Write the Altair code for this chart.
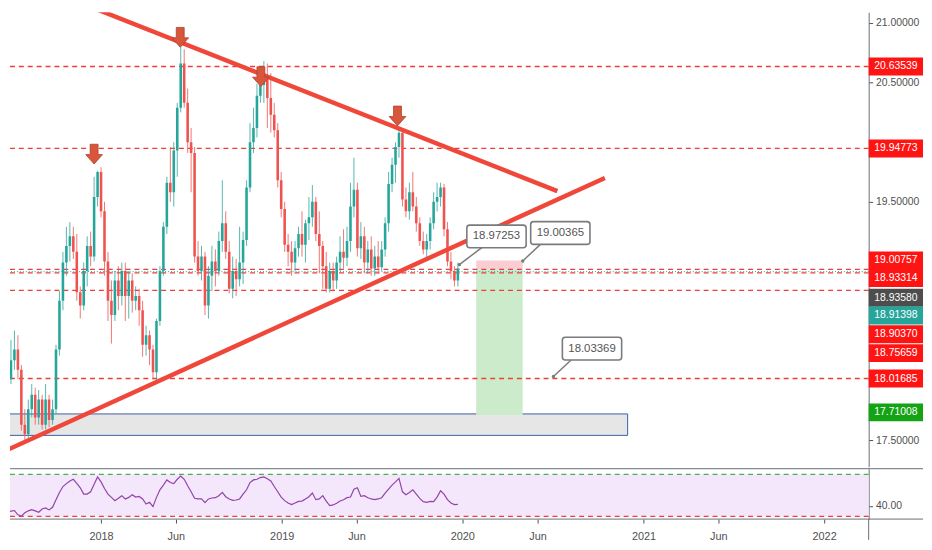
import altair as alt
import pandas as pd

FONT = "Liberation Sans"
UP = "#26A69A"
DOWN = "#EF5350"
LEVEL_RED = "#F03C3C"
TREND = "#F0473B"
TXT = "#4F4F4F"
FRAME = "#6A6D78"

# ---------------------------------------------------------------------------
# data (weekly candles, first week 2017-06-19)
# ---------------------------------------------------------------------------
first_week = "2017-06-19"

opens = [
    18.67, 18.30, 18.01, 18.17, 18.26, 18.09, 17.63, 17.55, 17.76, 17.88,
    17.69, 17.84, 17.63, 17.84, 17.67, 17.76, 18.26, 18.67, 18.99, 19.13,
    19.21, 19.08, 18.74, 18.63, 18.92, 19.13, 19.04, 19.54, 19.75, 19.42,
    19.00, 18.67, 18.55, 18.84, 18.71, 18.92, 18.71, 18.84, 18.67, 18.71,
    18.59, 18.30, 18.38, 18.26, 18.07, 18.50, 18.92, 19.29, 19.66, 19.58,
    19.93, 20.29, 20.66, 20.33, 20.00, 19.91, 19.04, 18.92, 19.04, 18.63,
    18.88, 19.00, 18.92, 19.17, 19.32, 19.08, 18.77, 18.92, 18.85, 18.99,
    19.18, 19.62, 20.00, 20.12, 20.39, 20.48, 20.54, 20.37, 20.23, 20.10,
    19.68, 19.44, 19.14, 19.08, 18.99, 19.11, 19.23, 19.14, 19.32, 19.37,
    19.50, 19.23, 19.13, 18.96, 18.77, 18.92, 18.84, 18.99, 19.08, 19.03,
    19.17, 19.46, 19.60, 19.11, 19.21, 18.99, 19.10, 18.94, 19.04, 18.95,
    19.10, 19.32, 19.65, 19.81, 19.96, 20.08, 19.52, 19.42, 19.58, 19.46,
    19.32, 19.17, 19.10, 19.17, 19.32, 19.50, 19.54, 19.62, 19.27, 19.00,
    18.92, 18.84,
]
closes = [
    18.30, 18.01, 18.17, 18.26, 18.09, 17.63, 17.55, 17.76, 17.88, 17.69,
    17.84, 17.63, 17.84, 17.67, 17.76, 18.26, 18.67, 18.99, 19.13, 19.21,
    19.08, 18.74, 18.63, 18.92, 19.13, 19.04, 19.54, 19.75, 19.42, 19.00,
    18.67, 18.55, 18.84, 18.71, 18.92, 18.71, 18.84, 18.67, 18.71, 18.59,
    18.30, 18.38, 18.26, 18.07, 18.50, 18.92, 19.29, 19.66, 19.58, 19.93,
    20.29, 20.66, 20.33, 20.00, 19.91, 19.04, 18.92, 19.04, 18.63, 18.88,
    19.00, 18.92, 19.17, 19.32, 19.08, 18.77, 18.92, 18.85, 18.99, 19.18,
    19.62, 20.00, 20.12, 20.39, 20.48, 20.54, 20.37, 20.23, 20.10, 19.68,
    19.44, 19.14, 19.08, 18.99, 19.11, 19.23, 19.14, 19.32, 19.37, 19.50,
    19.23, 19.13, 18.96, 18.77, 18.92, 18.84, 18.99, 19.08, 19.03, 19.17,
    19.46, 19.60, 19.11, 19.21, 18.99, 19.10, 18.94, 19.04, 18.95, 19.10,
    19.32, 19.65, 19.81, 19.96, 20.08, 19.52, 19.42, 19.58, 19.46, 19.32,
    19.17, 19.10, 19.17, 19.32, 19.50, 19.54, 19.62, 19.27, 19.00, 18.92,
    18.84, 18.94,
]
highs = [
    18.75, 18.34, 18.34, 18.42, 18.38, 18.13, 17.76, 17.84, 17.97, 17.94,
    17.92, 17.88, 17.97, 17.88, 17.84, 18.30, 18.75, 19.08, 19.29, 19.33,
    19.29, 19.23, 18.79, 18.99, 19.21, 19.25, 19.71, 19.76, 19.79, 19.50,
    19.08, 18.84, 18.92, 18.96, 18.99, 18.99, 18.92, 18.90, 18.79, 18.77,
    18.67, 18.46, 18.42, 18.30, 18.52, 18.96, 19.33, 19.71, 19.96, 20.00,
    20.33, 20.84, 20.78, 20.45, 20.12, 19.96, 19.17, 19.13, 19.08, 18.96,
    19.13, 19.10, 19.25, 19.68, 19.42, 19.17, 19.04, 19.02, 19.29, 19.25,
    19.68, 20.16, 20.29, 20.49, 20.64, 20.68, 20.66, 20.58, 20.33, 20.16,
    19.75, 19.50, 19.23, 19.17, 19.17, 19.29, 19.42, 19.35, 19.54, 19.64,
    19.54, 19.42, 19.17, 19.08, 18.99, 18.99, 19.04, 19.21, 19.27, 19.29,
    19.66, 19.87, 19.66, 19.33, 19.29, 19.17, 19.21, 19.13, 19.17, 19.17,
    19.37, 19.75, 19.87, 20.00, 20.12, 20.10, 19.62, 19.66, 19.75, 19.54,
    19.37, 19.25, 19.23, 19.37, 19.58, 19.66, 19.66, 19.65, 19.33, 19.08,
    18.96, 18.99,
]
lows = [
    18.21, 17.92, 17.97, 18.09, 18.01, 17.58, 17.47, 17.51, 17.69, 17.63,
    17.63, 17.59, 17.59, 17.61, 17.63, 17.72, 18.21, 18.59, 18.88, 19.00,
    19.02, 18.67, 18.52, 18.59, 18.79, 18.96, 19.00, 19.46, 19.37, 18.88,
    18.50, 18.31, 18.50, 18.59, 18.63, 18.50, 18.52, 18.57, 18.59, 18.46,
    18.20, 18.21, 18.13, 18.01, 17.98, 18.46, 18.88, 19.23, 19.50, 19.46,
    19.71, 20.25, 20.29, 19.91, 19.58, 18.99, 18.88, 18.84, 18.55, 18.52,
    18.75, 18.79, 18.88, 19.08, 19.02, 18.73, 18.69, 18.71, 18.79, 18.81,
    19.13, 19.58, 19.91, 20.04, 20.33, 20.33, 20.12, 20.08, 20.04, 19.62,
    19.37, 19.08, 18.96, 18.88, 18.92, 19.04, 19.04, 18.99, 19.18, 19.29,
    19.17, 18.90, 18.77, 18.74, 18.74, 18.75, 18.77, 18.92, 18.94, 18.96,
    19.08, 19.37, 19.04, 19.02, 18.90, 18.90, 18.88, 18.88, 18.90, 18.92,
    19.04, 19.25, 19.58, 19.66, 19.87, 19.46, 19.37, 19.35, 19.42, 19.25,
    19.13, 19.06, 19.03, 19.10, 19.27, 19.42, 19.46, 19.21, 18.96, 18.85,
    18.79, 18.79,
]
rsi_values = [
    33.1, 34.0, 35.0, 35.6, 31.5, 30.3, 33.4, 35.3, 36.5, 35.3,
    34.0, 37.1, 38.1, 36.2, 38.7, 45.9, 52.8, 58.4, 61.2, 63.7,
    65.3, 61.5, 57.2, 51.2, 51.2, 53.4, 60.6, 67.5, 62.8, 56.5,
    51.2, 48.1, 45.0, 47.2, 49.7, 46.6, 48.1, 50.6, 48.4, 49.0,
    46.6, 41.8, 43.4, 39.3, 48.1, 55.3, 59.7, 64.7, 62.2, 61.2,
    65.3, 68.4, 65.3, 59.1, 53.4, 47.2, 46.6, 46.6, 43.1, 46.6,
    47.5, 47.8, 49.7, 52.8, 48.7, 46.6, 45.3, 45.6, 46.6, 51.2,
    55.3, 62.2, 64.7, 65.3, 66.9, 67.5, 65.9, 63.7, 58.4, 53.4,
    48.4, 45.0, 42.8, 41.2, 42.8, 44.3, 44.6, 46.6, 48.7, 52.2,
    45.9, 46.6, 49.7, 44.6, 40.3, 40.9, 42.5, 44.6, 45.9, 47.8,
    48.4, 55.9, 57.2, 49.0, 49.7, 47.8, 46.6, 45.9, 46.6, 47.8,
    52.2, 55.9, 59.7, 62.8, 66.2, 53.4, 50.6, 52.8, 55.3, 51.2,
    47.2, 44.0, 43.4, 44.3, 44.0, 48.4, 54.4, 51.2, 45.9, 42.8,
    41.2, 41.5,
]

# horizontal levels
red_levels = [20.63539, 19.94773, 18.93314, 18.90370, 18.75659, 18.01685]
last_price = [18.91398]

# trend lines (two end points each)
trend_id = ["upper", "upper", "lower", "lower"]
trend_dates = ["2017-12-08", "2020-07-11", "2017-06-16", "2020-10-15"]
trend_prices = [21.14, 19.59, 17.40, 19.70]

# swing-high arrows
arrow_dates = ["2017-12-18", "2018-06-10", "2018-11-20", "2019-08-23"]
arrow_prices = [19.90, 20.88, 20.55, 20.22]

# support zone and short position box
support_start, support_end = "2017-06-01", "2020-11-30"
support_low, support_high = 17.54, 17.72
trade_start, trade_end = "2020-01-29", "2020-05-02"
trade_stop, trade_entry, trade_target = 19.00757, 18.93314, 17.71008

# price callouts: text, box centre, tail base, anchor
call_text = ["18.97253", "19.00365", "18.03369"]
call_box_date = ["2020-03-10", "2020-07-17", "2020-09-19"]
call_box_price = [19.209, 19.238, 18.268]
call_base_date = ["2020-02-10", "2020-06-09", "2020-08-10"]
call_base_price = [19.118, 19.151, 18.181]
call_anchor_date = ["2019-12-26", "2020-05-02", "2020-07-03"]
call_anchor_price = [18.97253, 19.00365, 18.03369]

# price tags on the right scale (stacked where they collide)
tag_text = ["20.63539", "19.94773", "19.00757", "18.93314", "18.93580",
            "18.91398", "18.90370", "18.75659", "18.01685", "17.71008"]
tag_level = [20.63539, 19.94773, 19.00757, 18.861, 18.695,
             18.546, 18.388, 18.230, 18.01685, 17.733]
tag_kind = ["red", "red", "red", "red", "prev",
            "last", "red", "red", "red", "target"]

rsi_upper, rsi_lower = 70, 30

time_ticks = [(2018, 1), (2018, 6), (2019, 1), (2019, 6), (2020, 1),
              (2020, 6), (2021, 1), (2021, 6), (2022, 1)]

# ---------------------------------------------------------------------------
# frames
# ---------------------------------------------------------------------------
week_dates = pd.date_range(first_week, periods=len(closes), freq="7D").strftime("%Y-%m-%d")
candles = pd.DataFrame({"date": week_dates, "open": opens, "high": highs,
                        "low": lows, "close": closes, "rsi": rsi_values})
candles["dir"] = ["up" if c >= o else "down" for o, c in zip(opens, closes)]

W, H_MAIN, H_RSI = 869, 460, 51

xs = alt.Scale(type="utc", domain=[alt.DateTime(year=2017, month=7, date=1, utc=True),
                                   alt.DateTime(year=2022, month=4, date=1, utc=True)])
ys = alt.Scale(domain=[17.277, 21.091], zero=False, nice=False)
y_axis = alt.Axis(orient="right", values=[17.5, 19.5, 20.5, 21.0], format=".5f",
                  title=None, grid=False, domainColor=FRAME, tickColor=TXT, tickSize=4,
                  labelPadding=3, labelColor=TXT, labelFontSize=10.5)

X = alt.X("date:T", scale=xs, axis=None)


def py(field):
    return alt.Y(field, scale=ys, axis=y_axis)


one = pd.DataFrame({"k": [0]})

support = alt.Chart(pd.DataFrame({"s": [support_start], "e": [support_end],
                                  "lo": [support_low], "hi": [support_high]})).mark_rect(
    fill="#E6E6E6", stroke="#3E5C9E", strokeWidth=1, clip=True
).encode(x=alt.X("s:T", scale=xs, axis=None), x2="e:T", y=py("lo:Q"), y2="hi:Q")

trade = pd.DataFrame({"s": [trade_start, trade_start], "e": [trade_end, trade_end],
                      "lo": [trade_target, trade_entry], "hi": [trade_entry, trade_stop],
                      "part": ["target", "stop"]})


def trade_box(part, fill):
    return alt.Chart(trade).transform_filter(alt.datum.part == part).mark_rect(
        fill=fill, opacity=1
    ).encode(x=alt.X("s:T", scale=xs, axis=None), x2="e:T", y=py("lo:Q"), y2="hi:Q")


levels = alt.Chart(pd.DataFrame({"price": red_levels})).mark_rule(
    color=LEVEL_RED, strokeWidth=1.4, strokeDash=[5, 4]
).encode(y=py("price:Q"))

last_line = alt.Chart(pd.DataFrame({"price": last_price})).mark_rule(
    color=UP, strokeWidth=1, strokeDash=[1, 2]
).encode(y=py("price:Q"))


def candle_layers(direction, color):
    base = alt.Chart(candles).transform_filter(alt.datum.dir == direction)
    wick = base.mark_rule(strokeWidth=1, opacity=0.8, color=color, clip=True).encode(
        x=X, y=py("low:Q"), y2="high:Q")
    body = base.mark_rule(strokeWidth=2.6, color=color, clip=True).encode(
        x=X, y=py("open:Q"), y2="close:Q")
    return [wick, body]


trends = alt.Chart(pd.DataFrame({"line": trend_id, "date": trend_dates,
                                 "price": trend_prices})).mark_line(
    color=TREND, strokeWidth=4.5, clip=True
).encode(x=X, y=py("price:Q"), detail="line:N")

ARROW = "M-0.4,-1L0.4,-1L0.4,0.05L0.85,0.05L0,1L-0.85,0.05L-0.4,0.05Z"
arrows = alt.Chart(pd.DataFrame({"date": arrow_dates, "price": arrow_prices})).mark_point(
    shape=ARROW, size=400, filled=True, fill="#D9553C", stroke="#A9442F",
    strokeWidth=0.8, opacity=1
).encode(x=X, y=py("price:Q"))

calls = pd.DataFrame({"text": call_text, "bd": call_box_date, "bp": call_box_price,
                      "td": call_base_date, "tp": call_base_price,
                      "ad": call_anchor_date, "ap": call_anchor_price})
tails = alt.Chart(calls).mark_rule(color="#7B7B7B", strokeWidth=1.5).encode(
    x=alt.X("td:T", scale=xs, axis=None), y=py("tp:Q"), x2="ad:T", y2="ap:Q")
anchors = alt.Chart(calls).mark_point(shape="circle", size=12, filled=True,
                                      color="#7B7B7B", opacity=1).encode(
    x=alt.X("ad:T", scale=xs, axis=None), y=py("ap:Q"))
BOX = ("M-0.9,-0.383L0.9,-0.383Q1,-0.383 1,-0.283L1,0.283Q1,0.383 0.9,0.383"
       "L-0.9,0.383Q-1,0.383 -1,0.283L-1,-0.283Q-1,-0.383 -0.9,-0.383Z")
boxes = alt.Chart(calls).mark_point(shape=BOX, size=3600, filled=True, fill="white",
                                    stroke="#7B7B7B", strokeWidth=1.6, opacity=1).encode(
    x=alt.X("bd:T", scale=xs, axis=None), y=py("bp:Q"))
box_text = alt.Chart(calls).mark_text(fontSize=11.5, color="#555555").encode(
    x=alt.X("bd:T", scale=xs, axis=None), y=py("bp:Q"), text="text:N")

tags = pd.DataFrame({"text": tag_text, "level": tag_level, "kind": tag_kind})
TAG = "M-1,-0.33L1,-0.33L1,0.33L-1,0.33Z"
TAG_FILL = {"red": "#FF1414", "prev": "#4D4D4D", "last": UP, "target": "#14A314"}


def tag_layer(kind):
    return alt.Chart(tags).transform_filter(alt.datum.kind == kind).mark_point(
        shape=TAG, size=3025, filled=True, fill=TAG_FILL[kind], opacity=1, strokeWidth=0
    ).encode(x=alt.value(896.5), y=py("level:Q"))


tag_text_layer = alt.Chart(tags).mark_text(fontSize=10.5, color="white").encode(
    x=alt.value(896.5), y=py("level:Q"), text="text:N")

main = alt.layer(
    support,
    trade_box("target", "#CBEBCB"),
    trade_box("stop", "#F9CDD2"),
    levels,
    last_line,
    *candle_layers("up", UP),
    *candle_layers("down", DOWN),
    trends,
    arrows,
    tails,
    anchors,
    boxes,
    box_text,
    *[tag_layer(k) for k in TAG_FILL],
    tag_text_layer,
).properties(width=W, height=H_MAIN)

# ---------------------------------------------------------------------------
# RSI pane
# ---------------------------------------------------------------------------
rs = alt.Scale(domain=[27.46, 75.35], zero=False, nice=False)
r_axis = alt.Axis(orient="right", values=[40], format=".2f", title=None, grid=False,
                  domainColor=FRAME, tickColor=TXT, tickSize=4, labelPadding=3,
                  labelColor=TXT, labelFontSize=10.5)
t_axis = alt.Axis(
    orient="bottom", title=None, grid=False, domain=False, tickColor=TXT, tickSize=4,
    labelColor=TXT, labelFontSize=11, labelPadding=8, labelFlush=False,
    values=[alt.DateTime(year=y, month=m, date=1, utc=True) for y, m in time_ticks],
    labelExpr="utcmonth(datum.value) == 0 ? utcFormat(datum.value, '%Y') : 'Jun'",
)

band = alt.Chart(pd.DataFrame({"hi": [rsi_upper], "lo": [rsi_lower]})).mark_rect(
    color="#F4E7FC").encode(x=alt.value(0), x2=alt.value(W),
                            y=alt.Y("hi:Q", scale=rs, axis=r_axis), y2="lo:Q")
top_band = alt.Chart(pd.DataFrame({"v": [rsi_upper]})).mark_rule(
    color="#43B649", strokeWidth=1.3, strokeDash=[5, 4]).encode(
    y=alt.Y("v:Q", scale=rs, axis=r_axis))
low_band = alt.Chart(pd.DataFrame({"v": [rsi_lower]})).mark_rule(
    color=LEVEL_RED, strokeWidth=1.3, strokeDash=[5, 4]).encode(
    y=alt.Y("v:Q", scale=rs, axis=r_axis))
rsi_line = alt.Chart(candles).mark_line(color="#9243A8", strokeWidth=1.2, clip=True).encode(
    x=alt.X("date:T", scale=xs, axis=t_axis), y=alt.Y("rsi:Q", scale=rs, axis=r_axis))

frame_top = alt.Chart(one).mark_rule(color=FRAME, strokeWidth=1).encode(
    x=alt.value(0), x2=alt.value(924), y=alt.value(0))
frame_bottom = alt.Chart(one).mark_rule(color=FRAME, strokeWidth=1).encode(
    x=alt.value(0), x2=alt.value(924), y=alt.value(H_RSI))
frame_side = alt.Chart(one).mark_rule(color=FRAME, strokeWidth=1).encode(
    x=alt.value(W), y=alt.value(H_RSI), y2=alt.value(72))

rsi_pane = alt.layer(
    band, top_band, low_band, rsi_line, frame_top, frame_bottom, frame_side
).properties(width=W, height=H_RSI)

chart = (
    alt.vconcat(main, rsi_pane, spacing=0)
    .properties(padding=0, background="white")
    .configure(font=FONT)
    .configure_view(stroke="transparent")
)

chart.save("out.html", embed_options={"renderer": "svg", "actions": False})
